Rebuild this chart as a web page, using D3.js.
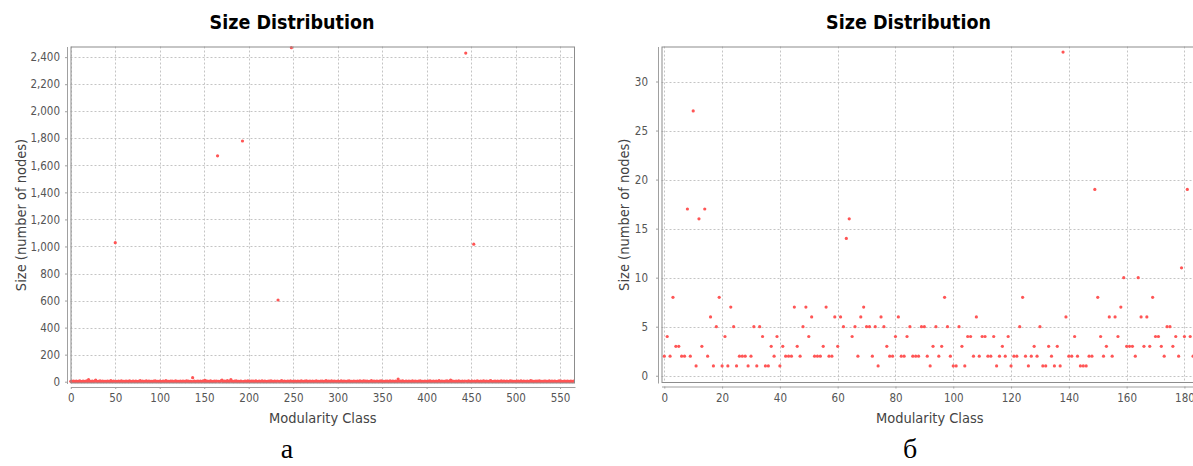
<!DOCTYPE html>
<html><head><meta charset="utf-8">
<script src="https://cdn.jsdelivr.net/npm/d3@7/dist/d3.min.js"></script>
<style>body{margin:0;background:#fff;} svg{display:block}</style>
</head><body>
<svg id="c" width="1193" height="466"></svg>
<script>
const chartTitle = "Size Distribution";
const xAxisTitle = "Modularity Class";
const yAxisTitle = "Size (number of nodes)";
const captions = ["а", "б"];

// Left chart: size of each modularity class (index = class id)
const leftSizes = [
3,1,2,5,2,1,4,2,1,3,6,2,1,2,4,1,3,2,7,1,
15,2,3,1,4,2,1,5,12,2,1,3,2,6,1,2,4,1,3,2,
1,5,2,3,1,8,2,1,4,2,1028,3,1,2,5,1,2,6,1,3,
2,1,4,2,3,1,7,2,1,3,5,2,1,4,2,1,3,2,9,1,
2,4,1,3,2,6,1,2,5,1,3,2,1,4,2,7,1,3,2,1,
5,2,1,3,4,1,2,8,1,3,2,1,5,2,4,1,3,2,6,1,
2,3,1,4,2,1,5,3,2,1,6,2,4,1,3,2,1,30,2,4,
1,3,2,5,1,2,4,1,3,7,2,10,1,4,2,3,1,6,2,1,
3,2,4,1,5,1670,2,1,3,6,12,1,2,4,3,1,8,2,1,5,
15,2,3,1,4,2,6,1,3,2,1,5,2,1780,1,3,4,2,1,7,
2,1,3,5,2,4,1,2,6,3,1,2,4,1,3,7,2,1,5,2,
1,3,2,4,1,6,2,3,1,5,2,1,4,604,2,1,3,8,2,1,
4,2,1,3,5,2,1,6,2470,2,3,1,4,2,1,5,3,2,1,6,
2,3,1,4,2,7,1,3,2,5,1,2,4,1,3,2,6,1,2,3,
1,5,2,4,1,3,2,8,1,2,4,3,1,6,2,1,5,2,3,1,
4,2,1,3,6,2,1,5,2,3,1,4,2,7,1,3,2,1,5,2,
3,1,4,2,1,6,2,3,1,6,2,4,1,5,2,1,3,2,8,1,
2,4,1,3,5,2,1,4,2,6,1,3,2,1,5,2,4,1,3,7,
1,2,4,3,1,5,2,1,20,3,2,4,1,6,2,1,3,5,2,1,
4,2,3,1,6,2,1,5,3,2,1,4,2,7,1,3,2,1,5,2,
3,1,4,2,6,1,2,3,5,1,2,4,1,3,8,2,1,5,2,3,
1,4,2,6,1,3,2,12,1,5,2,3,1,4,2,1,6,2,3,1,
5,2,1,4,2430,3,1,6,2,1,3,5,2,1017,4,1,2,7,3,1,
2,4,1,3,6,2,1,5,2,3,1,4,8,2,1,3,2,5,1,2,
4,1,3,2,6,1,2,4,3,1,5,2,1,3,7,2,4,1,2,3,
1,5,2,4,1,3,6,2,1,4,2,3,1,5,2,1,3,8,2,4,
1,2,3,5,1,4,2,6,1,3,2,1,5,2,4,1,3,2,6,1,
2,4,1,3,5,2,1,3,2,7,1,4,2,1,3,5,2,1,4,2,
3,1,5,2,1,4
];

// Right chart: size of each modularity class (index = class id)
const rightSizes = [
2,4,2,8,3,3,2,2,17,2,27,1,16,3,17,2,6,1,5,8,
1,4,1,7,5,1,2,2,2,1,2,5,1,5,4,1,1,3,2,4,
1,3,2,2,2,7,3,2,5,7,4,6,2,2,2,3,7,2,2,6,
3,6,5,14,16,4,5,2,6,7,5,5,2,5,1,6,5,3,2,2,
4,6,2,2,4,5,2,2,2,5,5,2,1,3,5,2,3,8,5,2,
1,1,5,3,1,4,4,2,6,2,4,4,2,2,4,1,2,3,2,4,
1,2,2,5,8,2,1,2,3,2,5,1,1,3,2,1,3,1,33,6,
2,2,4,2,1,1,1,2,2,19,8,4,2,3,6,2,6,4,7,10,
3,3,3,2,10,6,3,6,3,8,4,4,3,2,5,5,3,4,2,11,
4,19,4,2
];

const leftXTicks = [0,50,100,150,200,250,300,350,400,450,500,550];
const leftYTicks = [0,200,400,600,800,1000,1200,1400,1600,1800,2000,2200,2400];
const rightXTicks = [0,20,40,60,80,100,120,140,160,180];
const rightYTicks = [0,5,10,15,20,25,30];

const svg = d3.select("#c");
const TICK_FONT = "'DejaVu Sans Condensed','DejaVu Sans',sans-serif";

function drawChart(o) {
  const g = svg.append("g");
  const f = o.frame;
  const x = d3.scaleLinear().domain(o.xDomain).range([f.x0, f.x1]);
  const y = d3.scaleLinear().domain(o.yDomain).range([f.y1, f.y0]);

  // title
  g.append("text").attr("x", o.titleX).attr("y", 29)
    .attr("text-anchor", "middle")
    .style("font-family", TICK_FONT).style("font-weight", "bold")
    .style("font-size", "19.5px").attr("fill", "#000")
    .text(chartTitle);

  // plot background
  g.append("rect").attr("x", f.x0).attr("y", f.y0)
    .attr("width", f.x1 - f.x0).attr("height", f.y1 - f.y0)
    .attr("fill", "#fff");

  // gridlines
  const grid = g.append("g").attr("stroke", "#c4c4c4").attr("stroke-width", 1)
    .attr("stroke-dasharray", "2,2");
  grid.selectAll(".gx").data(o.xTicks).join("line")
    .attr("x1", d => Math.round(x(d)) + 0.5).attr("x2", d => Math.round(x(d)) + 0.5)
    .attr("y1", f.y0).attr("y2", f.y1);
  grid.selectAll(".gy").data(o.yTicks).join("line")
    .attr("y1", d => Math.round(y(d)) + 0.5).attr("y2", d => Math.round(y(d)) + 0.5)
    .attr("x1", f.x0).attr("x2", f.x1);

  // points
  g.append("g").attr("fill", "#ff5555")
    .selectAll("circle").data(o.values).join("circle")
    .attr("cx", (d, i) => x(i)).attr("cy", d => y(d)).attr("r", 1.6);

  // frame
  g.append("rect").attr("x", f.x0 + 0.5).attr("y", f.y0 + 0.5)
    .attr("width", f.x1 - f.x0 - 1).attr("height", f.y1 - f.y0 - 1)
    .attr("fill", "none").attr("stroke", "#8c8c8c").attr("stroke-width", 1);

  // x axis
  const xa = g.append("g").attr("transform", `translate(0,${f.y1 + 3.5})`)
    .call(d3.axisBottom(x).tickValues(o.xTicks).tickSize(2).tickSizeOuter(0)
      .tickPadding(5).tickFormat(d3.format("d")));
  // y axis
  const ya = g.append("g").attr("transform", `translate(${f.x0 - 3.5},0)`)
    .call(d3.axisLeft(y).tickValues(o.yTicks).tickSize(2).tickSizeOuter(0)
      .tickPadding(o.yPad).tickFormat(d3.format(",")));
  [xa, ya].forEach(a => {
    a.select(".domain").attr("stroke", "#a0a0a0");
    a.selectAll(".tick line").attr("stroke", "#a0a0a0");
    a.selectAll(".tick text").attr("fill", "#555")
      .style("font-family", TICK_FONT).style("font-size", "11.5px");
  });

  // axis titles
  g.append("text").attr("x", (f.x0 + f.x1) / 2).attr("y", 423)
    .attr("text-anchor", "middle").attr("fill", "#444")
    .style("font-family", TICK_FONT).style("font-size", "14.5px")
    .text(xAxisTitle);
  g.append("text")
    .attr("transform", `translate(${o.yTitleX},${(f.y0 + f.y1) / 2}) rotate(-90)`)
    .attr("text-anchor", "middle").attr("dy", "0.36em").attr("fill", "#444")
    .style("font-family", TICK_FONT).style("font-size", "14.5px")
    .text(yAxisTitle);

  // caption
  g.append("text").attr("x", o.capX).attr("y", 458)
    .attr("text-anchor", "middle").attr("fill", "#000")
    .style("font-family", "'Liberation Serif','Times New Roman',serif")
    .style("font-size", "28px")
    .text(o.caption);
}

drawChart({
  values: leftSizes, xTicks: leftXTicks, yTicks: leftYTicks,
  frame: {x0: 70.5, x1: 575, y0: 46.5, y1: 383.5},
  xDomain: [-0.3, 566.8], yDomain: [-13.3, 2478.7],
  titleX: 292, yTitleX: 21, yPad: 5, capX: 287, caption: captions[0]
});
drawChart({
  values: rightSizes, xTicks: rightXTicks, yTicks: rightYTicks,
  frame: {x0: 661.5, x1: 1198, y0: 46.5, y1: 383},
  xDomain: [-0.97, 184.7], yDomain: [-0.74, 33.57],
  titleX: 908.5, yTitleX: 624, yPad: 8, capX: 910, caption: captions[1]
});
</script>
</body></html>
